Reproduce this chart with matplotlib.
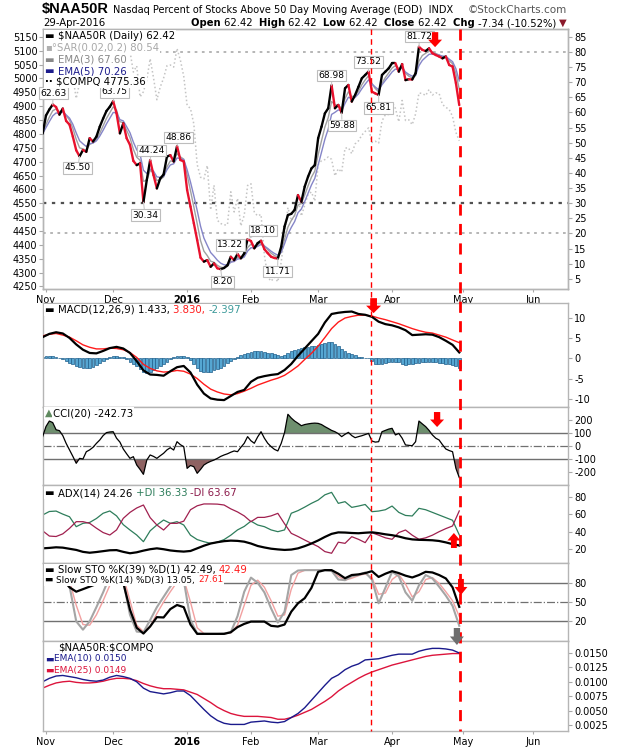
import numpy as np
import pandas as pd
import matplotlib
matplotlib.use("Agg")
import matplotlib.pyplot as plt
import matplotlib.transforms as mtransforms
from matplotlib.collections import LineCollection
from matplotlib.lines import Line2D
from matplotlib.patches import Polygon
from matplotlib.ticker import FormatStrFormatter

plt.rcParams['font.family'] = ['DejaVu Sans']
plt.rcParams['axes.unicode_minus'] = False

# trading day index: -1 = 30-Oct-2015, 0 = 2-Nov-2015 ... 123 = 29-Apr-2016
days = np.arange(-1, 124)
days2 = np.arange(-1, 124, 2)   # indicators read every second session

month_names = ['Nov', 'Dec', '2016', 'Feb', 'Mar', 'Apr', 'May', 'Jun']
month_pos = [0, 20, 42, 61, 81, 103, 124, 145]

# $NAA50R daily close
close = [53.0, 59.0, 61.0, 62.63, 61.8, 59.3, 61.3, 57.2, 56.0, 52.0,
         47.5, 45.5, 47.6, 47.0, 51.5, 50.4, 52.0, 55.3, 58.0, 60.5,
         61.9, 63.75, 59.7, 53.1, 56.4, 51.5, 49.3, 44.0, 42.6, 43.2,
         30.34, 37.7, 44.24, 39.3, 34.9, 38.2, 39.5, 45.4, 45.9, 43.8,
         48.86, 44.3, 43.8, 34.4, 28.9, 23.4, 17.8, 12.0, 10.7, 11.2,
         9.0, 10.1, 8.5, 8.20, 8.6, 9.5, 12.3, 11.2, 13.22, 11.8,
         13.4, 18.10, 17.5, 15.1, 16.8, 17.6, 14.8, 13.5, 12.3, 11.9,
         11.71, 15.6, 22.3, 26.1, 26.5, 27.8, 32.7, 30.5, 35.5, 38.8,
         41.5, 42.6, 51.5, 55.3, 59.7, 61.4, 68.98, 61.4, 62.5, 59.88,
         68.0, 69.1, 63.6, 65.8, 68.5, 71.3, 72.4, 73.52, 66.9, 66.3,
         65.81, 72.4, 73.5, 74.6, 76.3, 76.3, 73.5, 76.0, 70.7, 71.0,
         70.9, 73.0, 81.72, 80.7, 80.3, 81.2, 79.6, 79.0, 78.5, 77.9,
         78.5, 75.7, 75.2, 69.76, 62.42]

# $COMPQ daily close (left scale)
compq = [5053.8,
         5127.2, 5145.1, 5142.5, 5127.7, 5147.1, 5095.3, 5083.2, 5067.0, 5005.1, 4927.9,
         4984.6, 4986.0, 5075.2, 5073.6, 5104.9, 5102.5, 5102.8, 5116.1, 5127.5, 5108.7,
         5156.3, 5123.2, 5037.5, 5142.3, 5101.8, 5098.2, 5022.9, 5045.2, 4933.5, 4952.2,
         4995.1, 5071.1, 5002.6, 4923.1, 4968.9, 5001.1, 5045.9, 5048.5, 5041.0, 5107.9,
         5065.9, 5007.4,
         4903.1, 4891.4, 4835.8, 4689.4, 4643.6, 4638.0, 4685.9, 4526.1, 4615.0, 4488.4,
         4477.0, 4471.7, 4472.1, 4591.2, 4518.5, 4567.7, 4468.2, 4506.7, 4614.0,
         4620.4, 4517.0, 4504.2, 4509.6, 4363.1, 4283.6, 4268.8, 4283.8, 4266.8, 4337.5,
         4436.0, 4534.1, 4487.5, 4504.4, 4570.6, 4503.6, 4542.6, 4582.2, 4590.5, 4558.0,
         4689.6, 4703.4, 4707.4, 4717.0, 4708.3, 4648.8, 4674.4, 4662.2, 4748.5, 4750.3,
         4728.7, 4764.0, 4775.0, 4795.7, 4808.9, 4821.7, 4768.9, 4773.5, 4766.8, 4846.6,
         4869.3, 4869.9,
         4914.5, 4891.8, 4843.9, 4920.7, 4848.4, 4850.7, 4833.4, 4872.1, 4947.4, 4945.9,
         4938.2, 4960.0, 4940.3, 4948.1, 4945.9, 4906.2, 4895.8, 4888.3, 4863.1, 4805.3,
         4775.36]

macd = [5.2, 6.0, 6.4, 6.1, 5.0, 3.4, 2.1, 1.3, 1.2, 1.8,
        2.5, 2.8, 2.4, 1.3, -0.7, -3.0, -4.0, -4.1, -4.3, -3.2,
        -2.2, -1.9, -3.5, -6.5, -8.7, -9.9, -10.2, -10.3, -9.3, -8.3,
        -7.8, -5.8, -4.8, -4.4, -4.1, -3.9, -2.9, -1.4, 0.6, 2.4,
        4.2, 6.0, 8.8, 10.9, 11.2, 11.4, 11.5, 10.9, 10.7, 10.2,
        9.0, 8.4, 8.1, 7.6, 6.9, 5.7, 5.8, 5.9, 5.8, 5.2,
        4.3, 3.3, 1.433]
macd_signal = [5.5, 5.9, 6.1, 5.7, 5.2, 4.3, 3.3, 2.7, 2.3, 2.3,
               2.5, 2.4, 2.1, 1.4, 0.2, -1.5, -2.5, -3.1, -3.4, -3.3,
               -3.0, -3.2, -3.9, -5.0, -6.4, -7.6, -8.3, -8.8, -9.0, -8.7,
               -8.1, -7.4, -6.6, -6.0, -5.4, -4.9, -4.2, -3.1, -1.9, -0.3,
               1.2, 3.0, 5.1, 7.3, 8.9, 9.9, 10.3, 10.6, 10.6, 10.4,
               9.9, 9.5, 9.0, 8.5, 7.9, 7.3, 6.8, 6.4, 6.2, 5.7,
               5.2, 4.5, 3.830]
macd_hist = [0.3, 0.5, 0.6, 0.5, 0.3, 0.0, -0.3,
             -0.7, -1.1, -1.5, -1.9, -2.2, -2.4, -2.5,
             -2.4, -2.1, -1.7, -1.2, -0.6, -0.1, 0.3,
             0.6, 0.6, 0.4, 0.2, -0.2, -0.8, -1.4,
             -2.0, -2.7, -3.4, -3.7, -3.4, -2.9, -2.5,
             -2.0, -1.4, -0.8, -0.2, 0.2, 0.5, 0.6,
             0.5, 0.3, -0.5, -1.5, -2.4, -3.1, -3.3,
             -3.4, -3.3, -3.0, -2.7, -2.3, -1.8, -1.2,
             -0.6, -0.2, 0.3, 0.7, 1.0, 1.3, 1.6,
             1.7, 1.8, 1.8, 1.6, 1.4, 1.2, 1.0,
             0.7, 0.6, 0.9, 1.4, 1.8, 2.1, 2.4,
             2.6, 2.7, 2.8, 2.9, 3.1, 3.3, 3.5,
             3.7, 3.9, 4.1, 3.6, 3.0, 2.4, 1.8,
             1.3, 1.0, 0.7, 0.4, 0.2, 0.1, 0.0,
             -0.7, -1.3, -1.5, -1.3, -1.2, -1.0, -0.9,
             -0.8, -1.0, -1.3, -1.6, -1.5, -1.3, -1.2,
             -1.1, -0.9, -0.8, -0.8, -0.9, -1.0, -1.1,
             -1.2, -1.4, -1.5, -1.7, -2.0, -2.397]

cci = [72, 150, 192, 180, 125, 118, 80, 20, -30, -80,
       -133, -95, -100, -44, -30, -10, 20, 46, 80, 103,
       108, 110, 60, 30, -23, -60, -95, -82, -146, -180,
       -218, -108, -69, -80, -95, -75, -56, -30, -13, -31,
       33, 10, -5, -172, -150, -159, -210, -180, -146, -130,
       -118, -108, -95, -80, -69, -60, -48, -38, -44, -10,
       21, 72, 40, 21, 70, 110, 60, 21, -5, -26,
       -38, 20, 103, 244, 215, 192, 175, 156, 165, 170,
       174, 176, 174, 165, 149, 135, 120, 110, 95, 72,
       90, 105, 80, 64, 72, 79, 88, 97, 38, 30,
       33, 110, 120, 130, 136, 85, 97, 60, 8, 5,
       2, 33, 192, 170, 149, 120, 85, 60, 46, 10,
       -23, -35, -44, -172, -242.73]

adx = [21.0, 21.5, 22.2, 21.8, 20.5, 19.2, 17.0, 16.0, 16.8, 17.8,
       18.8, 19.0, 17.0, 15.4, 16.5, 18.4, 20.0, 21.0, 20.0, 18.6,
       17.8, 17.3, 18.0, 21.0, 24.0, 26.5, 28.0, 29.2, 29.8, 29.5,
       28.6, 26.5, 23.7, 22.0, 20.6, 19.8, 19.2, 19.6, 21.0, 23.5,
       26.5, 30.0, 34.0, 37.5, 39.2, 39.0, 38.5, 38.2, 38.8, 39.3,
       38.3, 37.0, 36.0, 34.5, 32.5, 31.2, 30.7, 30.5, 30.2, 29.4,
       27.8, 25.8, 24.26]
plus_di = [59, 63, 63.5, 60, 57, 45.7, 49.5, 50.5, 55, 61,
           63.6, 58, 48, 41.9, 36.2, 28.6, 41, 47.6, 53.3, 49.5,
           51.4, 47.6, 36, 31, 28.6, 26.7, 28, 31, 36, 42,
           46, 52, 47.6, 45.7, 42, 40, 42, 61, 64, 68,
           72.3, 76, 82, 84.8, 72.3, 74.2, 67.7, 69.2, 71, 62.8,
           63.5, 65, 69.2, 62, 58.5, 57.9, 66.6, 65, 62, 59,
           56, 53, 36.33]
minus_di = [41, 35, 34.5, 37.5, 43.8, 51.4, 51.4, 49.5, 44, 39,
            36.2, 42, 55.2, 62, 67, 70.4, 56, 47.6, 41.9, 49.5,
            49.5, 52, 65, 69.5, 71.6, 71.6, 71.4, 70.4, 66, 62.5,
            58, 51.4, 56.3, 56.3, 58, 60.9, 49, 38.1, 34.5, 30.5,
            26.7, 23, 17.3, 15.4, 28, 26.7, 34.3, 31.3, 27.5, 38.8,
            36, 33, 31.3, 39, 41.9, 36, 31.3, 33, 36, 40,
            43.5, 46.5, 63.67]

sto39 = [90, 95, 93, 85, 72.9, 66.1, 70, 74, 78, 88,
         95, 92, 80, 38, 10, 1, 12, 26.5, 26, 39,
         45.4, 42, 15, 0.5, 0.5, 0.5, 0.5, 0.5, 3, 11,
         16, 19.6, 19.6, 19.6, 13, 11.9, 15, 35, 48, 56,
         72, 97, 99.6, 99.6, 94, 87, 92, 93, 95, 98,
         89, 94, 98, 95, 91, 88.2, 92, 97, 96, 92,
         86.7, 72.9, 42.49]
sto14_k = [95, 98, 99, 92, 75, 20, 7, 20, 42, 65,
           90, 98, 82, 30, 4, 3, 22, 42, 58, 74,
           88, 84, 22, 1, 0.5, 0.5, 0.5, 1, 3, 28,
           66, 88, 80, 65, 40, 18, 35, 92, 99, 99.6,
           99.6, 99.6, 99.6, 98.6, 85, 84, 90, 92, 96, 85,
           48, 72, 97, 90, 65, 52, 76, 92, 86.7, 73.9,
           60, 44, 13.05]
sto14_d = [92, 95, 97, 96, 83, 45, 15, 14, 30, 52,
           76, 93, 90, 52, 14, 4, 12, 32, 50, 66,
           81, 86, 50, 10, 1, 0.5, 0.5, 0.8, 2, 14,
           45, 76, 84, 73, 52, 28, 30, 70, 95, 99.3,
           99.6, 99.6, 99.6, 99, 90, 84, 87, 91, 94, 88,
           62, 64, 85, 93, 78, 58, 66, 85, 88, 79,
           66, 52, 27.61]

ratio_ema10 = [0.0100, 0.0106, 0.0110, 0.0111, 0.0109, 0.0107, 0.0104, 0.0102, 0.0101, 0.0103,
               0.0108, 0.0111, 0.0109, 0.0106, 0.0100, 0.0089, 0.0083, 0.0081, 0.0079, 0.0081,
               0.0084, 0.0084, 0.0076, 0.0064, 0.0052, 0.0041, 0.0033, 0.0028, 0.0026, 0.0026,
               0.0026, 0.0030, 0.0031, 0.0032, 0.0030, 0.0029, 0.0031, 0.0038, 0.0045, 0.0055,
               0.0068, 0.0081, 0.0094, 0.0106, 0.0112, 0.0121, 0.0127, 0.0131, 0.0138, 0.0139,
               0.0140, 0.0143, 0.0146, 0.0148, 0.0148, 0.0148, 0.0153, 0.0156, 0.0158, 0.0158,
               0.0157, 0.0155, 0.0150]
ratio_ema25 = [0.0089, 0.0094, 0.0098, 0.0100, 0.0101, 0.0099, 0.0098, 0.0098, 0.0099, 0.0101,
               0.0104, 0.0106, 0.0106, 0.0105, 0.0102, 0.0097, 0.0093, 0.0090, 0.0088, 0.0088,
               0.0087, 0.0086, 0.0082, 0.0078, 0.0071, 0.0064, 0.0056, 0.0050, 0.0045, 0.0042,
               0.0040, 0.0040, 0.0040, 0.0039, 0.0038, 0.0035, 0.0035, 0.0038, 0.0042, 0.0047,
               0.0052, 0.0059, 0.0066, 0.0074, 0.0084, 0.0092, 0.0099, 0.0106, 0.0112, 0.0117,
               0.0121, 0.0125, 0.0129, 0.0132, 0.0135, 0.0138, 0.0141, 0.0144, 0.0146, 0.0147,
               0.0148, 0.0149, 0.0149]

# swing points that carry a value tag on the price panel
label_days = [2, 10, 20, 29, 31, 39, 52, 57, 60, 69, 85, 88, 96, 99, 111]
label_spots = [(2.1, 66.4), (9.4, 41.7), (20.5, 66.8), (29.5, 26.1), (31.4, 47.4),
               (39.4, 51.7), (52.5, 4.0), (54.9, 16.2), (64.6, 21.0), (68.9, 7.4),
               (85.0, 72.2), (88.1, 55.7), (96.0, 76.7), (99.0, 61.5), (111.2, 85.1)]

marker_days = [96.6, 123.2]

assert len(close) == len(days) == len(compq) == len(cci) == len(macd_hist)
for s in (macd, macd_signal, adx, plus_di, minus_di, sto39, sto14_k, sto14_d, ratio_ema10, ratio_ema25):
    assert len(s) == len(days2)

ema3 = pd.Series(close).ewm(span=3, adjust=False).mean()
ema5 = pd.Series(close).ewm(span=5, adjust=False).mean()

W, H = 620, 750
XMIN, XMAX = -0.89, 155.36
fig = plt.figure(figsize=(W / 100, H / 100), dpi=100)
renderer = fig.canvas.get_renderer()


def px_axes(top, bottom, left=43, right=568):
    return fig.add_axes([left / W, 1 - bottom / H, (right - left) / W, (bottom - top) / H])


def style(ax, show_months=False):
    ax.set_xlim(XMIN, XMAX)
    for sp in ax.spines.values():
        sp.set_color('#b5b5b5')
        sp.set_linewidth(1)
    ax.set_xticks(month_pos)
    ax.tick_params(axis='both', labelsize=7, colors='#a8a8a8', labelcolor='black',
                   length=3, width=0.8, pad=1.5)
    ax.tick_params(axis='x', length=2, pad=2, labelbottom=show_months)
    if show_months:
        ax.set_xticklabels(month_names)
        for lab in ax.get_xticklabels():
            if lab.get_text() == '2016':
                lab.set_fontweight('bold')


def put_text(x, y, parts, size=7.3, bg=False, align='left', family=None):
    # x, y in figure pixels measured from the top-left corner
    texts, widths = [], []
    for s, color, weight in parts:
        t = fig.text(0, 1 - y / H, s, color=color, fontsize=size, fontweight=weight,
                     ha='left', va='center', zorder=8)
        if family:
            t.set_family(family)
        if bg:
            t.set_bbox(dict(facecolor='white', edgecolor='none', pad=0.8))
        texts.append(t)
        widths.append(t.get_window_extent(renderer).width)
    if align == 'right':
        x -= sum(widths)
    for t, w in zip(texts, widths):
        t.set_x(x / W)
        x += w
    return x


def block_arrow(ax, x, y, down=True, color='#ff0000', w=14, h=16):
    s = 1 if down else -1
    sw, hh = w * 0.45, h * 0.5
    verts = [(0, 0), (w / 2, s * hh), (sw / 2, s * hh), (sw / 2, s * h),
             (-sw / 2, s * h), (-sw / 2, s * hh), (-w / 2, s * hh)]
    trans = mtransforms.Affine2D() + mtransforms.ScaledTranslation(x, y, ax.transData)
    fig.add_artist(Polygon(verts, closed=True, transform=trans, facecolor=color,
                           edgecolor='none', zorder=12))


# ---------------- price panel ----------------
ax_c = px_axes(29, 289)
ax_p = ax_c.twinx()
style(ax_c, show_months=True)
style(ax_p)
ax_c.yaxis.tick_left()
ax_p.yaxis.tick_right()
ax_p.set_ylim(1.65, 87.6)
ax_c.set_ylim(4222.7 + 10.909 * 1.65, 4222.7 + 10.909 * 87.6)
ax_p.set_yticks(np.arange(5, 90, 5))
ax_c.set_yticks(np.arange(4250, 5200, 50))
ax_c.tick_params(axis='y', labelsize=7, colors='#a8a8a8', labelcolor='black', length=3, pad=1)

ax_c.plot(days, compq, color='#c4c4c4', lw=1.1, ls=(0, (1, 1.6)), zorder=2)

ax_p.axhline(80, color='#b0b0b0', lw=1.3, ls=(0, (1.5, 2.5)), zorder=1)
ax_p.axhline(30, color='#505050', lw=1.6, ls=(0, (1.5, 2.5)), zorder=1)
ax_p.axhline(20, color='#b0b0b0', lw=1.3, ls=(0, (1.5, 2.5)), zorder=1)

ax_p.plot(days, ema3, color='#a0a0a0', lw=1.0, zorder=3)
ax_p.plot(days, ema5, color='#8585c8', lw=1.0, zorder=3)

pts = np.column_stack([days, close])
segs = np.stack([pts[:-1], pts[1:]], axis=1)
seg_cols = ['black' if b >= a else '#e8112d' for a, b in zip(close[:-1], close[1:])]
ax_p.add_collection(LineCollection(segs, colors=seg_cols, linewidths=1.7, zorder=4,
                                   capstyle='round'))

for d, (tx, ty) in zip(label_days, label_spots):
    ax_p.annotate(f'{close[d + 1]:.2f}', xy=(d, close[d + 1]), xytext=(tx, ty),
                  textcoords='data', ha='center', va='center', fontsize=6.6, zorder=6,
                  bbox=dict(boxstyle='square,pad=0.15', fc='white', ec='#bdbdbd', lw=0.8),
                  arrowprops=dict(arrowstyle='-', color='#c8c8c8', lw=0.8,
                                  shrinkA=0, shrinkB=0), annotation_clip=False)

# ---------------- MACD ----------------
ax_m = px_axes(303, 407)
style(ax_m)
ax_m.yaxis.tick_right()
ax_m.set_ylim(-12, 13.6)
ax_m.set_yticks([-10, -5, 0, 5, 10])
ax_m.bar(days, macd_hist, width=0.85, color='#55a6d2', edgecolor='#1f5f8c', linewidth=0.5, zorder=2)
ax_m.plot(days2, macd_signal, color='#ff1a1a', lw=1.0, zorder=3)
ax_m.plot(days2, macd, color='black', lw=1.6, zorder=4)

# ---------------- CCI ----------------
ax_cci = px_axes(407, 485)
style(ax_cci)
ax_cci.yaxis.tick_right()
ax_cci.set_ylim(-300, 300)
ax_cci.set_yticks([-200, -100, 0, 100, 200])
ax_cci.axhline(100, color='#707070', lw=1)
ax_cci.axhline(-100, color='#707070', lw=1)
ax_cci.axhline(0, color='#707070', lw=0.9, ls='-.')
cci_arr = np.array(cci, dtype=float)
ax_cci.fill_between(days, cci_arr, 100, where=cci_arr > 100, interpolate=True,
                    color='#6e8f6e', lw=0)
ax_cci.fill_between(days, cci_arr, -100, where=cci_arr < -100, interpolate=True,
                    color='#8e6262', lw=0)
ax_cci.plot(days, cci_arr, color='black', lw=0.9, zorder=3)

# ---------------- ADX ----------------
ax_adx = px_axes(485, 563)
style(ax_adx)
ax_adx.yaxis.tick_right()
ax_adx.set_ylim(4.3, 93.2)
ax_adx.set_yticks([20, 40, 60, 80])
ax_adx.plot(days2, plus_di, color='#2e7d5b', lw=0.9)
ax_adx.plot(days2, minus_di, color='#a0204f', lw=0.9)
ax_adx.plot(days2, adx, color='black', lw=1.6)

# ---------------- Slow stochastics ----------------
ax_sto = px_axes(563, 641)
style(ax_sto)
ax_sto.yaxis.tick_right()
ax_sto.set_ylim(-10.6, 110.7)
ax_sto.set_yticks([20, 50, 80])
ax_sto.axhline(80, color='#707070', lw=1)
ax_sto.axhline(20, color='#707070', lw=1)
ax_sto.axhline(50, color='#707070', lw=0.9, ls='-.')
ax_sto.plot(days2, sto14_d, color='#f2a0a0', lw=1.0)
ax_sto.plot(days2, sto14_k, color='#a5a5a5', lw=1.5)
ax_sto.plot(days2, sto39, color='black', lw=1.6)

# ---------------- ratio ----------------
ax_r = px_axes(641, 731)
style(ax_r, show_months=True)
ax_r.yaxis.tick_right()
ax_r.set_ylim(0.00146, 0.01708)
ax_r.set_yticks([0.0025, 0.0050, 0.0075, 0.0100, 0.0125, 0.0150])
ax_r.yaxis.set_major_formatter(FormatStrFormatter('%.4f'))
ax_r.plot(days2, ratio_ema25, color='#dc143c', lw=1.0)
ax_r.plot(days2, ratio_ema10, color='#1a1a8c', lw=1.0)

# ---------------- vertical markers and arrows ----------------
blend = mtransforms.blended_transform_factory(ax_p.transData, fig.transFigure)
for xv, lw in zip(marker_days, [1.0, 2.0]):
    fig.add_artist(Line2D([xv, xv], [1 - 29 / H, 1 - 731 / H], transform=blend,
                          color='#ff0000', lw=lw, ls=(0, (4, 3)), zorder=11))

block_arrow(ax_p, 115.8, 81.6, w=14, h=15)
block_arrow(ax_m, 97.5, 11.1, w=15, h=15)
block_arrow(ax_cci, 116.4, 146, w=14, h=15)
block_arrow(ax_adx, 121.4, 38.5, down=False, w=13, h=15)
block_arrow(ax_sto, 123.5, 61, w=13, h=16)
block_arrow(ax_sto, 122.3, -16.8, color='#6e6e6e', w=14, h=17)

# ---------------- header ----------------
x = put_text(42, 9, [(r'\$NAA50R', 'black', 'bold')], size=10.5,
             family=['Liberation Sans Narrow', 'Liberation Sans', 'DejaVu Sans'])
put_text(x + 4, 10, [('Nasdaq Percent of Stocks Above 50 Day Moving Average (EOD)  INDX',
                      'black', 'normal')], size=7)
fig.text(567 / W, 1 - 10 / H, '\u00a9StockCharts.com', ha='right', va='center',
         fontsize=7.5, color='#555555')
put_text(43, 23, [('29-Apr-2016', 'black', 'normal')], size=7.3)
put_text(567, 23, [('Open ', 'black', 'bold'), ('62.42  ', 'black', 'normal'),
                   ('High ', 'black', 'bold'), ('62.42  ', 'black', 'normal'),
                   ('Low ', 'black', 'bold'), ('62.42  ', 'black', 'normal'),
                   ('Close ', 'black', 'bold'), ('62.42  ', 'black', 'normal'),
                   ('Chg ', 'black', 'bold'), ('-7.34 (-10.52%) ', 'black', 'normal'),
                   ('\u25bc', '#8b1a2b', 'normal')], size=7.2, align='right')

# ---------------- legends ----------------
put_text(45, 36, [('\u25ac ', 'black', 'normal'), (r'\$NAA50R (Daily) 62.42', 'black', 'normal')], bg=True)
put_text(45, 48, [('\u25aa\u00b0', '#b0b0b0', 'normal'), ('SAR(0.02,0.2) 80.54', '#a8a8a8', 'normal')], bg=True)
put_text(45, 60, [('\u25ac ', '#888888', 'normal'), ('EMA(3) 67.60', '#888888', 'normal')], bg=True)
put_text(45, 71, [('\u25ac ', '#1c1c8c', 'normal'), ('EMA(5) 70.26', '#1c1c8c', 'normal')], bg=True)
put_text(45, 82, [('\u00b7\u00b7 ', 'black', 'bold'), (r'\$COMPQ 4775.36', 'black', 'normal')], bg=True)

put_text(45, 310, [('\u25ac ', 'black', 'normal'), ('MACD(12,26,9) 1.433, ', 'black', 'normal'),
                   ('3.830, ', '#ff1a1a', 'normal'), ('-2.397', '#3c9a9a', 'normal')], bg=True)
put_text(45, 413, [('\u25b2', '#5f8a5f', 'normal'), ('CCI(20) -242.73', 'black', 'normal')], bg=True)
put_text(45, 493, [('\u25ac ', 'black', 'normal'), ('ADX(14) 24.26 ', 'black', 'normal'),
                   ('+DI 36.33 ', '#2e7d5b', 'normal'), ('-DI 63.67', '#8b1a4a', 'normal')], bg=True)
put_text(45, 570, [('\u25ac ', 'black', 'normal'), ('Slow STO %K(39) %D(1) 42.49, ', 'black', 'normal'),
                   ('42.49', '#ff1a1a', 'normal')], bg=True)
put_text(45, 580, [('\u25ac ', 'black', 'normal'), ('Slow STO %K(14) %D(3) 13.05, ', 'black', 'normal'),
                   ('27.61', '#ff1a1a', 'normal')], size=6.4, bg=True)
put_text(58, 647, [(r'\$NAA50R:\$COMPQ', 'black', 'normal')], size=7.3)
put_text(45, 659, [('\u25ac', '#1a1a8c', 'normal'), ('EMA(10) 0.0150', '#1a1a8c', 'normal')], size=6.5)
put_text(45, 670, [('\u25ac', '#dc143c', 'normal'), ('EMA(25) 0.0149', '#dc143c', 'normal')], size=6.5)

fig.savefig('out.png', dpi=100)
